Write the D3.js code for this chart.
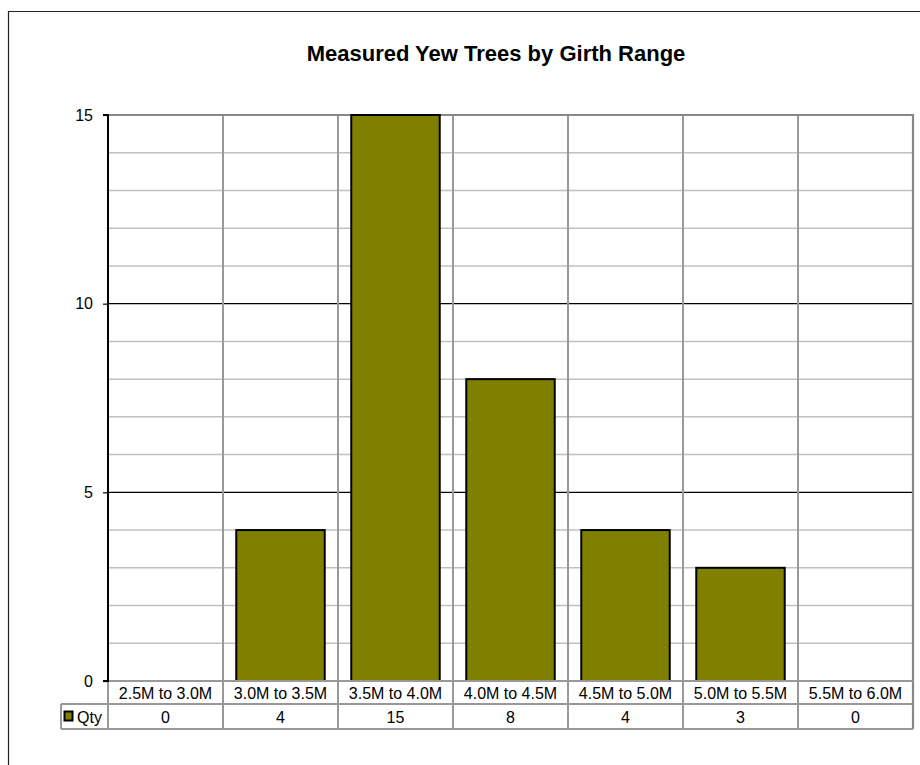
<!DOCTYPE html>
<html>
<head>
<meta charset="utf-8">
<script src="https://cdn.jsdelivr.net/npm/d3@7"></script>
<style>
  body { margin: 0; background: #fff; }
  svg { display: block; font-family: "Liberation Sans", Arial, sans-serif; }
</style>
</head>
<body>
<svg id="chart" width="920" height="765"></svg>
<script>
  // girth ranges and counts
  const categories = ['2.5M to 3.0M', '3.0M to 3.5M', '3.5M to 4.0M', '4.0M to 4.5M',
    '4.5M to 5.0M', '5.0M to 5.5M', '5.5M to 6.0M'];
  const qty = [0, 4, 15, 8, 4, 3, 0];
  const yTicks = [0, 5, 10, 15];
  const seriesName = 'Qty';

  (function () {
  const svg = d3.select('#chart');

  const plotLeft = 108, plotRight = 913, plotTop = 115, plotBottom = 681;
  const row1 = 704, row2 = 729;
  const fs = 16;

  const x = d3.scaleBand().domain(categories).range([plotLeft, plotRight]);
  const y = d3.scaleLinear().domain([0, 15]).range([plotBottom, plotTop]);
  const barW = x.bandwidth() / 1.3;

  // outer chart frame (cut off on right and bottom)
  svg.append('path')
    .attr('d', 'M8.5,766 V11.5 H921')
    .attr('fill', 'none')
    .attr('stroke', '#222')
    .attr('stroke-width', 1.2);

  svg.append('text')
    .attr('x', 496).attr('y', 53)
    .attr('text-anchor', 'middle')
    .attr('dominant-baseline', 'central')
    .attr('font-weight', 'bold')
    .attr('font-size', 22)
    .text('Measured Yew Trees by Girth Range');

  // minor gridlines every 1
  svg.append('g').selectAll('line')
    .data(d3.range(1, 15).filter(v => v % 5 !== 0))
    .enter().append('line')
    .attr('x1', plotLeft).attr('x2', plotRight)
    .attr('y1', d => y(d)).attr('y2', d => y(d))
    .attr('stroke', '#c0c0c0').attr('stroke-width', 1.5);

  // major gridlines
  svg.append('g').selectAll('line')
    .data([5, 10])
    .enter().append('line')
    .attr('x1', plotLeft).attr('x2', plotRight)
    .attr('y1', d => y(d)).attr('y2', d => y(d))
    .attr('stroke', '#000').attr('stroke-width', 1.2);

  // vertical category lines through plot and table
  svg.append('g').selectAll('line')
    .data(categories.slice(1))
    .enter().append('line')
    .attr('x1', d => x(d)).attr('x2', d => x(d))
    .attr('y1', plotTop).attr('y2', row2)
    .attr('stroke', '#999').attr('stroke-width', 2);

  // plot border top/right
  svg.append('path')
    .attr('d', `M${plotLeft},${plotTop} H${plotRight} V${row2}`)
    .attr('fill', 'none')
    .attr('stroke', '#888').attr('stroke-width', 2.2);

  // bars
  svg.append('g').selectAll('rect')
    .data(qty.map((v, i) => ({ cat: categories[i], v })).filter(d => d.v > 0))
    .enter().append('rect')
    .attr('x', d => x(d.cat) + (x.bandwidth() - barW) / 2)
    .attr('y', d => y(d.v))
    .attr('width', barW)
    .attr('height', d => y(0) - y(d.v))
    .attr('fill', '#808000')
    .attr('stroke', '#000')
    .attr('stroke-width', 2);

  // data table rows
  svg.append('path')
    .attr('d', `M${plotLeft},${plotBottom} H${plotRight} M61,${row1} H${plotRight} M61,${row2} H${plotRight} M61,${row1} V${row2} M${plotLeft},${plotBottom} V${row2}`)
    .attr('fill', 'none')
    .attr('stroke', '#999').attr('stroke-width', 2);

  // y axis
  const yAxis = d3.axisLeft(y).tickValues(yTicks).tickSize(5).tickPadding(10);
  const ga = svg.append('g')
    .attr('transform', `translate(${plotLeft},0)`)
    .call(yAxis);
  ga.select('.domain').attr('stroke', '#000').attr('stroke-width', 2)
    .attr('d', `M-5,${plotTop}H0V${plotBottom}H-5`);
  ga.selectAll('.tick line').attr('stroke', '#000').attr('stroke-width', 1.2);
  ga.selectAll('.tick text')
    .attr('font-size', fs)
    .attr('font-family', '"Liberation Sans", Arial, sans-serif')
    .attr('fill', '#000');

  // table texts
  svg.append('g').selectAll('text')
    .data(categories)
    .enter().append('text')
    .attr('x', d => x(d) + x.bandwidth() / 2)
    .attr('y', (plotBottom + row1) / 2 + 1)
    .attr('text-anchor', 'middle')
    .attr('dominant-baseline', 'central')
    .attr('font-size', fs)
    .text(d => d);

  svg.append('g').selectAll('text')
    .data(qty)
    .enter().append('text')
    .attr('x', (d, i) => x(categories[i]) + x.bandwidth() / 2)
    .attr('y', (row1 + row2) / 2 + 1)
    .attr('text-anchor', 'middle')
    .attr('dominant-baseline', 'central')
    .attr('font-size', fs)
    .text(d => d);

  // legend key
  svg.append('rect')
    .attr('x', 64.5).attr('y', 711.5).attr('width', 8).attr('height', 9)
    .attr('fill', '#808000').attr('stroke', '#000').attr('stroke-width', 2);
  svg.append('text')
    .attr('x', 77).attr('y', (row1 + row2) / 2 + 1)
    .attr('dominant-baseline', 'central')
    .attr('font-size', fs)
    .text(seriesName);
  })();
</script>
</body>
</html>
